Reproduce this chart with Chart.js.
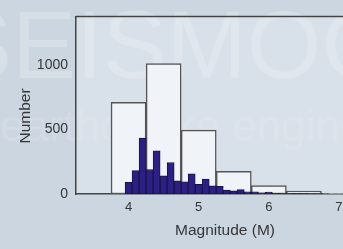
<!DOCTYPE html>
<html>
<head>
	<meta charset="utf-8">
	<title>Magnitude histogram</title>
	<script src="https://cdn.jsdelivr.net/npm/chart.js@4.4.1/dist/chart.umd.min.js"></script>
	<style>
		html, body {
			margin: 0;
			padding: 0;
			overflow: hidden;
			background: #ccd6e0;
		}
		canvas {
			display: block;
		}
	</style>
</head>
<body>
<canvas id="myChart" width="380" height="249"></canvas>
<script>
	// 0.5 M bins (white bars)
	const wideCenters = [4.0, 4.5, 5.0, 5.5, 6.0, 6.5, 7.0]
	const wideCounts = [710, 1010, 495, 175, 65, 22, 6]
	// 0.1 M bins (blue bars)
	const narrowCenters = [4.0, 4.1, 4.2, 4.3, 4.4, 4.5, 4.6, 4.7, 4.8, 4.9, 5.0, 5.1, 5.2, 5.3, 5.4, 5.5, 5.6, 5.7, 5.8, 5.9, 6.0, 6.1, 6.2, 6.3, 6.4, 6.5, 6.6, 6.7, 6.8, 6.9, 7.0, 7.1, 7.2]
	const narrowCounts = [90, 181, 432, 190, 335, 140, 244, 101, 94, 157, 74, 116, 63, 60, 31, 24, 34, 17, 16, 10, 15, 6, 4, 4, 3, 3, 2, 2, 3, 2, 2, 1, 1]
	const xTicks = [4, 5, 6, 7]
	const yTicks = [0, 500, 1000]

	const xMin = 3.25, xMax = 7.5
	const textColor = "#363636"
	const lineColor = "#444"
	const font = "'Liberation Sans', Arial, sans-serif"

	const background = {
		id: "background",
		beforeDraw(chart) {
			const {ctx, chartArea: a, width, height} = chart
			ctx.save()
			ctx.fillStyle = "#ccd6e0"
			ctx.fillRect(0, 0, width, height)
			ctx.fillStyle = "#d8e0e9"
			ctx.fillRect(a.left, a.top, a.right - a.left, a.bottom - a.top)
			// faint watermark
			ctx.textBaseline = "alphabetic"
			ctx.fillStyle = "rgba(255,255,255,0.2)"
			ctx.font = "96px " + font
			ctx.fillText("SEISMOG", -52, 78)
			ctx.fillStyle = "rgba(255,255,255,0.12)"
			ctx.font = "44px " + font
			ctx.fillText("earthquake engineering", 0, 141)
			ctx.restore()
		},
		afterDraw(chart) {
			const {ctx, chartArea: a} = chart
			ctx.save()
			ctx.strokeStyle = lineColor
			ctx.lineWidth = 1.5
			ctx.beginPath()
			ctx.moveTo(a.left, a.top)
			ctx.lineTo(a.right, a.top)
			ctx.stroke()
			ctx.restore()
		}
	}

	const toPoints = (xs, ys) => xs.map((x, i) => ({x: x, y: ys[i]}))
	const setTicks = values => scale => {
		scale.ticks = values.map(v => ({value: v}))
	}

	const ctx = document.getElementById("myChart").getContext("2d")
	const myChart = new Chart(ctx, {
		type: "bar",
		data: {
			datasets: [{
				label: "0.1 M bins",
				data: toPoints(narrowCenters, narrowCounts),
				xAxisID: "xn",
				order: 0,
				grouped: false,
				backgroundColor: "#2c2183",
				borderColor: "#18124d",
				borderWidth: 1,
				borderSkipped: false,
				barPercentage: 1,
				categoryPercentage: 1
			}, {
				label: "0.5 M bins",
				data: toPoints(wideCenters, wideCounts),
				xAxisID: "xw",
				order: 1,
				grouped: false,
				backgroundColor: "#f0f3f8",
				borderColor: "#555",
				borderWidth: 1.5,
				borderSkipped: false,
				barPercentage: 1,
				categoryPercentage: 1
			}]
		},
		options: {
			responsive: false,
			animation: false,
			layout: {
				padding: {left: 0, top: 5, right: 6, bottom: 0}
			},
			plugins: {
				legend: {display: false},
				tooltip: {enabled: false}
			},
			scales: {
				x: {
					type: "linear",
					offset: false,
					min: xMin,
					max: xMax,
					afterBuildTicks: setTicks(xTicks),
					afterFit: scale => { scale.height = 55 },
					grid: {display: false, drawTicks: false},
					border: {display: true, color: lineColor, width: 1.5},
					ticks: {
						padding: 6,
						color: textColor,
						font: {family: font, size: 13}
					},
					title: {
						display: true,
						text: "Magnitude (M)",
						color: textColor,
						padding: {top: 4, bottom: 9},
						font: {family: font, size: 15.5}
					}
				},
				xw: {
					type: "linear",
					display: false,
					offset: false,
					min: xMin,
					max: xMax,
					afterBuildTicks: setTicks(wideCenters)
				},
				xn: {
					type: "linear",
					display: false,
					offset: false,
					min: xMin,
					max: xMax,
					afterBuildTicks: setTicks(narrowCenters)
				},
				y: {
					min: 0,
					max: 1375,
					afterBuildTicks: setTicks(yTicks),
					afterFit: scale => { scale.width = 76 },
					grid: {display: false, drawTicks: false},
					border: {display: true, color: lineColor, width: 1.5},
					ticks: {
						padding: 8,
						color: textColor,
						font: {family: font, size: 14},
						callback: v => String(v)
					},
					title: {
						display: true,
						text: "Number" + "\u00a0".repeat(5),
						color: textColor,
						padding: {top: 16, bottom: 0},
						font: {family: font, size: 15.5}
					}
				}
			}
		},
		plugins: [background]
	})
</script>
</body>
</html>
